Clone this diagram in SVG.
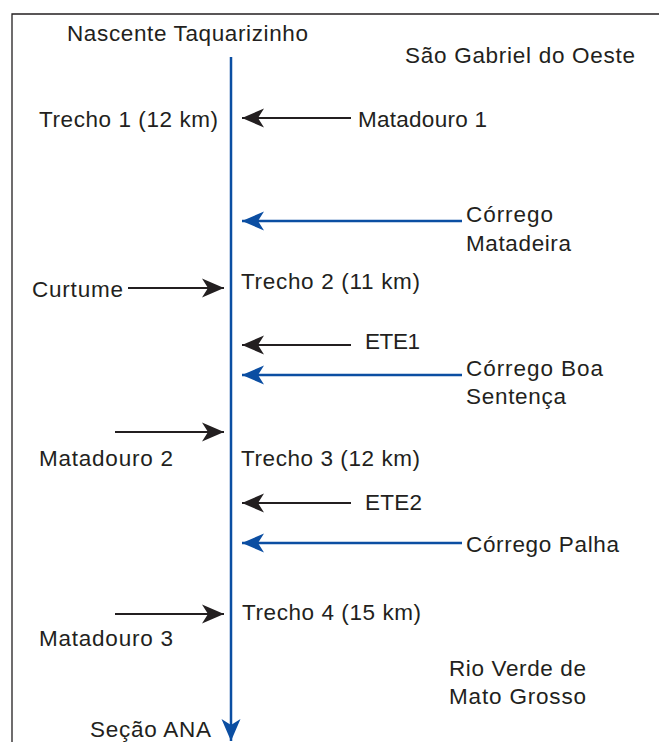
<svg xmlns="http://www.w3.org/2000/svg" width="659" height="742" viewBox="0 0 659 742">
<style>
text{font-family:"Liberation Sans",Arial,Helvetica,sans-serif;font-size:22.5px;fill:#231f20}
.k{stroke:#231f20;stroke-width:2;fill:none}
.b{stroke:#0b4ea2;stroke-width:2.5;fill:none}
</style>
<defs>
<marker id="ak" markerUnits="userSpaceOnUse" markerWidth="24" markerHeight="22" viewBox="-23 -11 24 22" refX="0" refY="0" orient="auto">
<path d="M0,0 L-22,-9.5 L-16,0 L-22,9.5 Z" fill="#231f20"/>
</marker>
<marker id="ab" markerUnits="userSpaceOnUse" markerWidth="24" markerHeight="22" viewBox="-23 -11 24 22" refX="0" refY="0" orient="auto">
<path d="M0,0 L-22,-9.5 L-16,0 L-22,9.5 Z" fill="#0b4ea2"/>
</marker>
</defs>
<path d="M12,745 V14 H659" stroke="#231f20" stroke-width="1.3" fill="none"/>
<g id="connectors">
<line class="b" x1="231" y1="57" x2="231" y2="741" marker-end="url(#ab)"/>
<line class="k" x1="351" y1="118" x2="242" y2="118" marker-end="url(#ak)"/>
<line class="b" x1="462" y1="221" x2="242" y2="221" marker-end="url(#ab)"/>
<line class="k" x1="128" y1="288" x2="224" y2="288" marker-end="url(#ak)"/>
<line class="k" x1="351" y1="345" x2="242" y2="345" marker-end="url(#ak)"/>
<line class="b" x1="462" y1="375" x2="242" y2="375" marker-end="url(#ab)"/>
<line class="k" x1="115" y1="432" x2="224" y2="432" marker-end="url(#ak)"/>
<line class="k" x1="351" y1="503" x2="242" y2="503" marker-end="url(#ak)"/>
<line class="b" x1="462" y1="543" x2="242" y2="543" marker-end="url(#ab)"/>
<line class="k" x1="115" y1="614" x2="224" y2="614" marker-end="url(#ak)"/>
</g>
<g id="nascente"><text x="67" y="41" textLength="241" lengthAdjust="spacing">Nascente Taquarizinho</text></g>
<g id="sao-gabriel"><text x="405" y="63" textLength="230" lengthAdjust="spacing">São Gabriel do Oeste</text></g>
<g id="trecho1"><text x="39" y="127" textLength="179" lengthAdjust="spacing">Trecho 1 (12 km)</text></g>
<g id="matadouro1"><text x="358" y="127" textLength="129" lengthAdjust="spacing">Matadouro 1</text></g>
<g id="corrego-matadeira"><text x="466" y="222" textLength="87" lengthAdjust="spacing">Córrego</text><text x="466" y="251" textLength="105" lengthAdjust="spacing">Matadeira</text></g>
<g id="trecho2"><text x="241" y="289" textLength="179" lengthAdjust="spacing">Trecho 2 (11 km)</text></g>
<g id="curtume"><text x="32" y="297" textLength="91" lengthAdjust="spacing">Curtume</text></g>
<g id="ete1"><text x="365" y="349" textLength="55" lengthAdjust="spacing">ETE1</text></g>
<g id="corrego-boa-sentenca"><text x="466" y="376" textLength="137" lengthAdjust="spacing">Córrego Boa</text><text x="466" y="404" textLength="100" lengthAdjust="spacing">Sentença</text></g>
<g id="matadouro2"><text x="39" y="466" textLength="134" lengthAdjust="spacing">Matadouro 2</text></g>
<g id="trecho3"><text x="241" y="466" textLength="179" lengthAdjust="spacing">Trecho 3 (12 km)</text></g>
<g id="ete2"><text x="365" y="510" textLength="57" lengthAdjust="spacing">ETE2</text></g>
<g id="corrego-palha"><text x="466" y="552" textLength="153" lengthAdjust="spacing">Córrego Palha</text></g>
<g id="trecho4"><text x="242" y="620" textLength="179" lengthAdjust="spacing">Trecho 4 (15 km)</text></g>
<g id="matadouro3"><text x="39" y="646" textLength="134" lengthAdjust="spacing">Matadouro 3</text></g>
<g id="rio-verde"><text x="449" y="676" textLength="137" lengthAdjust="spacing">Rio Verde de</text><text x="449" y="704" textLength="137" lengthAdjust="spacing">Mato Grosso</text></g>
<g id="secao-ana"><text x="90" y="737" textLength="121" lengthAdjust="spacing">Seção ANA</text></g>
</svg>
